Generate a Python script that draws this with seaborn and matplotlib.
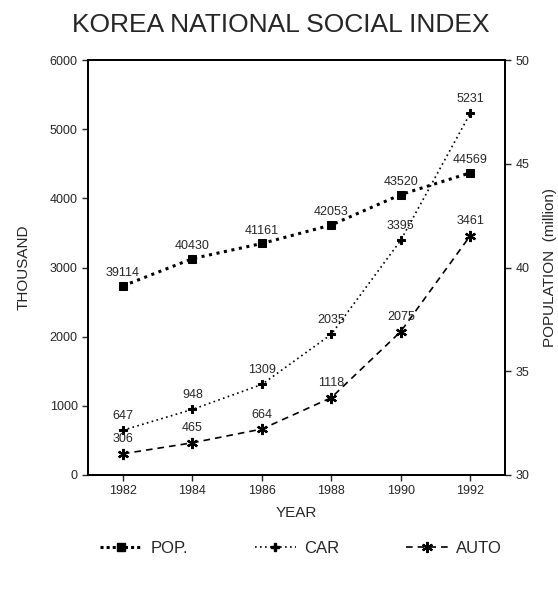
import numpy as np
import pandas as pd
import seaborn as sns
import matplotlib.pyplot as plt
from matplotlib.lines import Line2D

# Datos
years = [1982, 1984, 1986, 1988, 1990, 1992]
pop = [39114, 40430, 41161, 42053, 43520, 44569]   # mil personas
car = [647, 948, 1309, 2035, 3395, 5231]            # miles
auto = [306, 465, 664, 1118, 2075, 3461]            # miles

df = pd.DataFrame({"year": years, "pop": pop, "car": car, "auto": auto})
df["pop_m"] = df["pop"] / 1000

sns.set_style("ticks")
plt.rcParams["font.family"] = ["Liberation Sans", "DejaVu Sans"]

fig = plt.figure(figsize=(5.58, 5.90), dpi=100)
ax = fig.add_axes([0.158, 0.195, 0.747, 0.703])
ax2 = ax.twinx()

mk_pop = dict(marker="s", markersize=6, color="black", markerfacecolor="black", markeredgecolor="black")
mk_car = dict(marker="P", markersize=6, color="black", markerfacecolor="black", markeredgecolor="black")
mk_auto = dict(marker=(6, 2, 0), markersize=8, color="black", markeredgecolor="black", markeredgewidth=1.6)

sns.lineplot(data=df, x="year", y="car", ax=ax, linestyle=(0, (1, 2)), linewidth=1.2, color="black")
sns.lineplot(data=df, x="year", y="auto", ax=ax, linestyle=(0, (4, 3)), linewidth=1.2, color="black")
sns.lineplot(data=df, x="year", y="pop_m", ax=ax2, linestyle=(0, (1, 1.5)), linewidth=2.2, color="black")

# marcadores aplicados sobre las líneas de seaborn
ax.lines[0].set(**mk_car)
ax.lines[1].set(**mk_auto)
ax2.lines[0].set(**mk_pop)

for x, y in zip(years, car):
    ax.annotate(str(y), (x, y), xytext=(0, 6), textcoords="offset points", ha="center", va="bottom", fontsize=9)
for x, y in zip(years, auto):
    ax.annotate(str(y), (x, y), xytext=(0, 6), textcoords="offset points", ha="center", va="bottom", fontsize=9)
for x, y in zip(years, pop):
    ax2.annotate(str(y), (x, y / 1000), xytext=(0, 5), textcoords="offset points", ha="center", va="bottom", fontsize=9)

ax.set_xlim(1981, 1993)
ax.set_ylim(0, 6000)
ax2.set_ylim(30, 50)
ax.set_xticks(years)
ax.set_yticks(range(0, 6001, 1000))
ax2.set_yticks(range(30, 51, 5))

ax.set_xlabel("YEAR", fontsize=11, labelpad=6)
ax.set_ylabel("THOUSAND", fontsize=11, labelpad=14)
ax2.set_ylabel("POPULATION  (million)", fontsize=11, labelpad=10, rotation=90)

for a in (ax, ax2):
    a.tick_params(labelsize=9, length=4, width=1)
    for s in a.spines.values():
        s.set_linewidth(1.3)
        s.set_color("black")

fig.text(0.504, 0.957, "KOREA NATIONAL SOCIAL INDEX", ha="center", va="center", fontsize=19)

handles = [
    Line2D([], [], linestyle=(0, (1, 1)), linewidth=2.2, **mk_pop),
    Line2D([], [], linestyle=(0, (1, 2)), linewidth=1.2, **mk_car),
    Line2D([], [], linestyle=(0, (4, 3)), linewidth=1.2, **mk_auto),
]
fig.legend(handles, ["POP.", "CAR", "AUTO"], loc="center", bbox_to_anchor=(0.54, 0.07),
           ncol=3, frameon=False, fontsize=12, handlelength=2.5, handletextpad=0.5, columnspacing=4.0)

plt.savefig("out.png", dpi=100)
